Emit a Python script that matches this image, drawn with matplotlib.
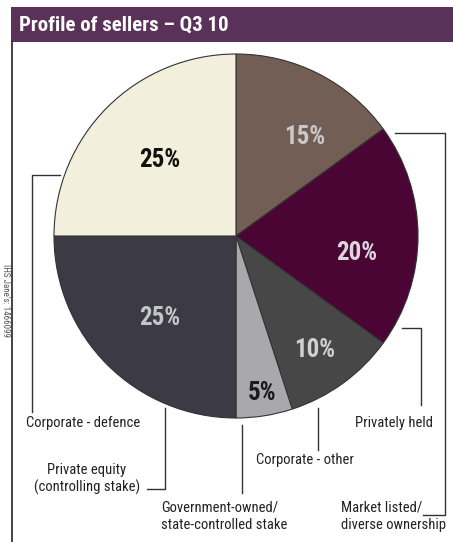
"""Profile of sellers pie, Q3 2010."""
import matplotlib
matplotlib.use("Agg")
import matplotlib.pyplot as plt

W, H = 453, 542

shares = [15, 20, 10, 5, 25, 25]
categories = [
    "Market listed/\ndiverse ownership",
    "Privately held",
    "Corporate - other",
    "Government-owned/\nstate-controlled stake",
    "Private equity\n(controlling stake)",
    "Corporate - defence",
]
colors = ["#735e55", "#4a0535", "#474747", "#a9a9ad", "#3b3a45", "#f2f0dc"]
pct_colors = ["#c9c9c9", "#dcd6dc", "#d0d0d0", "#1a1a1a", "#c4c4cc", "#111111"]
title = "Profile of sellers \u2013 Q3 10"
source = "IHS Jane's: 1466099"

plt.rcParams["font.family"] = ["Roboto Condensed", "DejaVu Sans"]

fig = plt.figure(figsize=(W / 100, H / 100), dpi=100)
ax = fig.add_axes([0, 0, 1, 1])


def Y(py):
    # pixel row (from top) -> data y
    return H - py


cx, cy, r = 236, Y(236), 182
wedges, _ = ax.pie(shares, colors=colors, startangle=90, counterclock=False,
                   center=(cx, cy), radius=r, frame=True,
                   wedgeprops=dict(edgecolor="#333333", linewidth=0.8))
ax.set_xlim(0, W)
ax.set_ylim(0, H)
ax.set_aspect("equal")
ax.axis("off")

# title bar and frame
ax.add_patch(plt.Rectangle((11, Y(42)), W - 11, 35, color="#5a3159", lw=0))
ax.text(19, Y(25), title, color="white", fontsize=15, fontweight="bold",
        va="center", ha="left")
ax.plot([11.5, 11.5], [Y(42), 0], color="#222222", lw=1.2)
ax.text(5, Y(300), source, rotation=270, fontsize=6.5, color="#555555",
        ha="center", va="center")

pct_pos = [(305, 137), (357, 253), (315, 350), (262, 393), (160, 318), (160, 160)]
for v, (px, py), c in zip(shares, pct_pos, pct_colors):
    ax.text(px, Y(py), f"{v}%", color=c, fontsize=18, fontweight="bold",
            ha="center", va="center")

lc = dict(color="#333333", lw=1.0)
# leader lines
ax.plot([395, 445, 445, 423], [Y(133), Y(133), Y(515), Y(515)], **lc)
ax.plot([402, 421, 421], [Y(328), Y(328), Y(405)], **lc)
ax.plot([318, 318], [Y(408), Y(450)], **lc)
ax.plot([242, 242], [Y(425), Y(493)], **lc)
ax.plot([147, 165, 165], [Y(489), Y(489), Y(408)], **lc)
ax.plot([60, 32, 32], [Y(175), Y(175), Y(412)], **lc)

fs = 10.5
ax.text(341, Y(516), categories[0], fontsize=fs, ha="left", va="center",
        linespacing=1.3, color="#222222")
ax.text(433, Y(423), categories[1], fontsize=fs, ha="right", va="center",
        color="#222222")
ax.text(256, Y(460), categories[2], fontsize=fs, ha="left", va="center",
        color="#222222")
ax.text(161, Y(516), categories[3], fontsize=fs, ha="left", va="center",
        linespacing=1.3, color="#222222")
ax.text(140, Y(479), categories[4], fontsize=fs, ha="right", va="center",
        linespacing=1.3, multialignment="center", color="#222222")
ax.text(26, Y(423), categories[5], fontsize=fs, ha="left", va="center",
        color="#222222")

fig.savefig("out.png", dpi=100)
